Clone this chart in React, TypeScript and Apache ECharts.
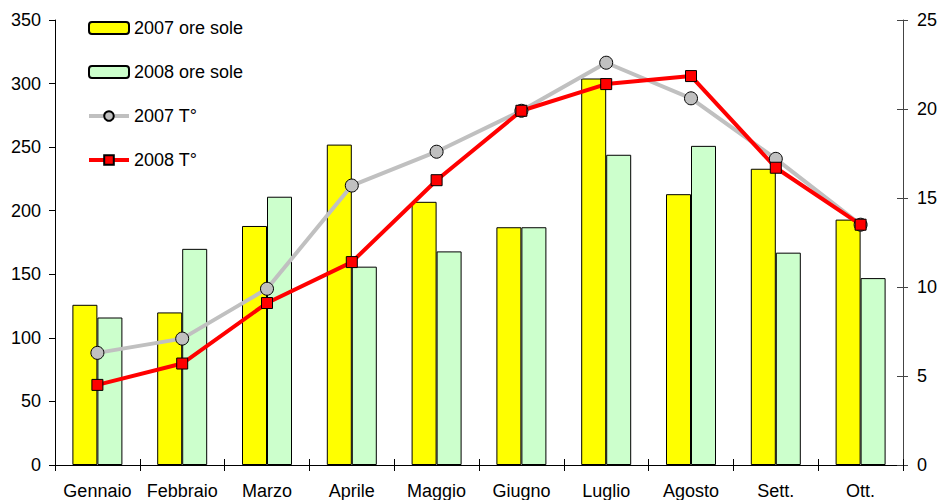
import React, { useEffect, useRef } from "react";
import * as echarts from "echarts";

const months = ["Gennaio", "Febbraio", "Marzo", "Aprile", "Maggio", "Giugno", "Luglio", "Agosto", "Sett.", "Ott."];
const sun2007 = [126, 120, 188, 252, 207, 187, 304, 213, 233, 193];
const sun2008 = [116, 170, 211, 156, 168, 187, 244, 251, 167, 147];
const temp2007 = [6.3, 7.1, 9.9, 15.7, 17.6, 19.9, 22.6, 20.6, 17.2, 13.5];
const temp2008 = [4.5, 5.7, 9.1, 11.4, 16.0, 19.9, 21.4, 21.85, 16.7, 13.5];

const FONT = "'Liberation Sans', Arial, sans-serif";

export default function App() {
  const ref = useRef<HTMLDivElement>(null);

  useEffect(() => {
    if (!ref.current) return;
    const chart = echarts.init(ref.current, null, { renderer: "svg" });
    const labelStyle = { color: "#000", fontSize: 18, fontFamily: FONT };
    chart.setOption({
      animation: false,
      backgroundColor: "#fff",
      textStyle: { fontFamily: FONT },
      grid: { left: 55, right: 38, top: 20, bottom: 35, containLabel: false },
      legend: {
        orient: "vertical",
        left: 87,
        top: 19,
        padding: 0,
        itemWidth: 40,
        itemHeight: 12,
        itemGap: 26,
        lineStyle: { width: 4 },
        textStyle: { color: "#000", fontSize: 18, fontFamily: FONT },
        data: ["2007 ore sole", "2008 ore sole", "2007 T°", "2008 T°"],
      },
      xAxis: [
        {
          type: "category",
          data: months,
          axisLine: { lineStyle: { color: "#000", width: 1 } },
          axisTick: { show: true, length: 6, inside: false, lineStyle: { color: "#000" } },
          axisLabel: { ...labelStyle, margin: 17, interval: 0 },
          splitLine: { show: false },
        },
        {
          type: "category",
          data: months,
          position: "bottom",
          axisLine: { show: false },
          axisTick: { show: true, length: 6, inside: true, lineStyle: { color: "#000" } },
          axisLabel: { show: false },
          splitLine: { show: false },
        },
      ],
      yAxis: [
        {
          type: "value",
          min: 0,
          max: 350,
          interval: 50,
          position: "left",
          axisLine: { show: true, lineStyle: { color: "#000" } },
          axisTick: { show: true, length: 6, lineStyle: { color: "#000" } },
          axisLabel: { ...labelStyle, margin: 14 },
          splitLine: { show: false },
        },
        {
          type: "value",
          min: 0,
          max: 25,
          interval: 5,
          position: "right",
          axisLine: { show: true, lineStyle: { color: "#444" } },
          axisTick: { show: true, length: 5, lineStyle: { color: "#444" } },
          axisLabel: { ...labelStyle, margin: 14 },
          splitLine: { show: false },
        },
        {
          type: "value",
          min: 0,
          max: 25,
          interval: 5,
          position: "right",
          axisLine: { show: false },
          axisTick: { show: true, length: 6, inside: true, lineStyle: { color: "#444" } },
          axisLabel: { show: false },
          splitLine: { show: false },
        },
      ],
      series: [
        {
          name: "2007 ore sole",
          type: "bar",
          data: sun2007,
          barWidth: 25,
          barGap: "0%",
          itemStyle: { color: "#FFFF00", borderColor: "#000", borderWidth: 1 },
        },
        {
          name: "2008 ore sole",
          type: "bar",
          data: sun2008,
          barWidth: 25,
          barGap: "0%",
          itemStyle: { color: "#CCFFCC", borderColor: "#000", borderWidth: 1 },
        },
        {
          name: "2007 T°",
          type: "line",
          yAxisIndex: 1,
          data: temp2007,
          symbol: "circle",
          symbolSize: 13,
          lineStyle: { color: "#C0C0C0", width: 4 },
          itemStyle: { color: "#C0C0C0", borderColor: "#000", borderWidth: 1 },
        },
        {
          name: "2008 T°",
          type: "line",
          yAxisIndex: 1,
          data: temp2008,
          symbol: "rect",
          symbolSize: 11,
          lineStyle: { color: "#FF0000", width: 4 },
          itemStyle: { color: "#FF0000", borderColor: "#000", borderWidth: 1 },
        },
      ],
    });
    return () => chart.dispose();
  }, []);

  return <div ref={ref} style={{ width: 941, height: 500, position: "absolute", left: 0, top: 0 }} />;
}
